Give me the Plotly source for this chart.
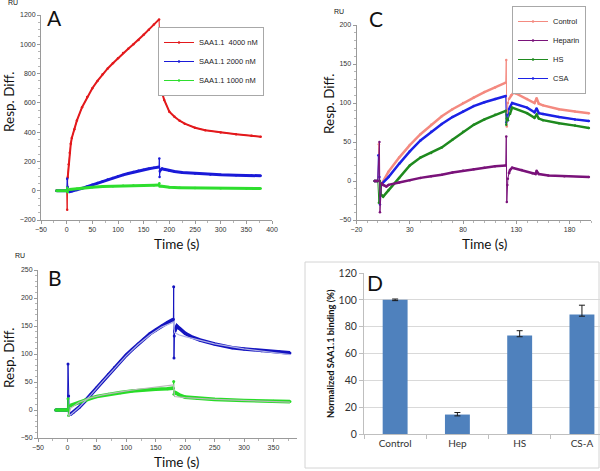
import plotly.graph_objects as go

W, H = 600, 471

# ---------------- Panel A / B data (SAA1.1 sensorgrams) ----------------
t_4000 = [-20, 0, 1, 2, 4, 6, 8, 10, 15, 20, 30, 40, 50, 60, 70, 80, 90, 100, 110, 120, 130, 140, 150,
          160, 170, 180, 181, 182, 185, 190, 200, 210, 220, 230, 250, 270, 300, 330, 360, 378]
y_4000 = [0, 0, -130, 90, 180, 260, 320, 360, 420, 480, 570, 640, 700, 750, 795, 835, 870, 905, 940, 970,
          1000, 1030, 1065, 1100, 1135, 1170, 1030, 740, 680, 620, 540, 505, 478, 458, 430, 413, 398, 385, 375, 368]

t_2000 = [-20, 0, 1, 2, 3, 5, 10, 20, 30, 40, 50, 60, 70, 80, 90, 100, 110, 120, 130, 140, 150, 160, 170,
          180, 180.5, 181, 181.5, 182, 186, 190, 200, 210, 225, 250, 280, 300, 330, 360, 378]
y_2000 = [0, 0, 82, 25, -5, -8, -4, 5, 16, 28, 40, 52, 64, 76, 87, 98, 108, 118, 127, 136, 143, 150, 156,
          162, 220, 93, 132, 140, 150, 146, 137, 131, 125, 118, 111, 109, 106, 104, 102]

t_1000 = [-20, 0, 1, 2, 5, 10, 20, 30, 40, 50, 70, 90, 110, 130, 150, 170, 180, 180.5, 181, 182, 185,
          190, 200, 220, 250, 300, 350, 378]
y_1000 = [0, 0, 20, -10, 8, 10, 14, 18, 21, 24, 28, 31, 34, 36, 37, 38, 39, 51, 28, 32, 30,
          27, 23, 21, 19, 17, 15.5, 15]

# fitted curves shown in panel B
t_fit_2000 = [2, 5, 20, 40, 60, 80, 100, 120, 140, 160, 180, 182, 190, 200, 225, 250, 300, 350, 378]
y_fit_2000 = [-8, -9, 5, 27, 51, 75, 97, 117, 134, 148, 157, 138, 134, 131, 124, 118, 109, 102, 99]
t_fit_1000 = [2, 5, 20, 40, 60, 80, 100, 120, 140, 160, 180, 182, 190, 200, 250, 300, 350, 378]
y_fit_1000 = [-12, 3, 14, 22, 27, 31, 34, 37, 40, 42, 45, 24, 23, 22, 19, 17, 15, 14]

# ---------------- Panel C data (competition) ----------------
t_ctrl = [-3, 0, 1, 2, 3.5, 10, 20, 30, 40, 50, 60, 70, 80, 90, 100, 110, 120, 120.5, 121, 122, 123,
          125, 127, 130, 140, 147, 149, 151, 155, 170, 185, 198]
y_ctrl = [0, 0, 47, -20, -4, 12, 30, 46, 60, 72, 83, 92, 100, 107, 114, 120, 126, 155, 70, 100, 105,
          110, 113, 112, 105, 100, 106, 99, 97, 92, 89, 87]

t_hep = [-3, 0, 1.5, 2, 3.5, 5, 8, 10, 20, 30, 40, 50, 60, 70, 80, 90, 100, 110, 120, 120.5, 121, 121.5,
         122, 123, 124, 126, 135, 145, 148, 149, 151, 160, 175, 198]
y_hep = [0, 0, 50, -40, -3, -5, -7, -5, -2, 1, 4, 6, 8, 11, 13, 15, 17, 19, 20, 57, -27, -5,
         3, 10, 14, 17, 14, 10, 9, 13, 9, 7, 6, 5]

t_hs = [-3, 0, 1, 2, 3.5, 5, 10, 20, 30, 40, 50, 60, 70, 80, 90, 100, 110, 120, 120.5, 121, 122, 124,
        126, 140, 147, 149, 151, 155, 170, 185, 198]
y_hs = [0, 0, -28, 0, -18, -20, -12, 4, 20, 30, 36, 43, 53, 63, 72, 79, 85, 90, 72, 80, 78, 86,
        94, 87, 81, 85, 80, 78, 74, 71, 68]

t_csa = [-3, 0, 0.5, 1.5, 2, 3.5, 10, 20, 30, 40, 50, 60, 70, 80, 90, 100, 110, 120, 120.5, 121, 122,
         123, 124, 126, 140, 147, 149, 151, 155, 170, 185, 198]
y_csa = [0, 0, 33, 5, -30, -4, 5, 22, 38, 52, 63, 73, 82, 89, 96, 101, 105, 109, 75, 85, 78,
         92, 95, 100, 94, 88, 93, 87, 86, 82, 79, 77]

# ---------------- Panel D data ----------------
d_categories = ["Control", "Hep", "HS", "CS-A"]
d_values = [100, 14.5, 73.5, 89]
d_err_plus = [0.6, 1.5, 3.5, 7.0]
d_err_minus = [0.6, 1.0, 1.0, 1.2]

# ---------------- helpers ----------------
def px(x):
    return x / W

def py(y):
    return 1 - y / H

def thick_part(t, y, windows):
    return [None if any(a < ti < b for a, b in windows) else yi for ti, yi in zip(t, y)]

fig = go.Figure()

def add_series(t, y, color, name, xa, ya, windows, width, legend=None, rank=None, msize=3):
    fig.add_trace(go.Scatter(x=t, y=thick_part(t, y, windows), mode="lines", xaxis=xa, yaxis=ya,
                             line=dict(color=color, width=width), showlegend=False,
                             hoverinfo="skip", connectgaps=False))
    fig.add_trace(go.Scatter(x=t, y=y, mode="lines+markers", xaxis=xa, yaxis=ya, name=name,
                             line=dict(color=color, width=1), marker=dict(color=color, size=msize),
                             showlegend=legend is not None, legend=legend or "legend",
                             legendrank=rank or 1000))

RED, BLUE, GREEN = "#e3191c", "#1a1ad8", "#2ede2e"
win_ab = [(0, 5), (180, 182)]

# Panel A
add_series(t_4000, y_4000, RED, "SAA1.1  4000 nM", "x", "y", [(0, 2), (180, 182)], 2, "legend", 1, 2.5)
add_series(t_2000, y_2000, BLUE, "SAA1.1 2000 nM", "x", "y", win_ab, 3, "legend", 2, 2.5)
add_series(t_1000, y_1000, GREEN, "SAA1.1 1000 nM", "x", "y", [(0, 5), (180, 182)], 3, "legend", 3, 2.5)

# Panel B
BLUE_B, GREEN_B = "#1414c0", "#28dc28"
add_series(t_2000, y_2000, BLUE_B, "2000", "x2", "y2", win_ab, 3.6, None, None, 3)
add_series(t_1000, y_1000, GREEN_B, "1000", "x2", "y2", [(0, 5), (180, 182)], 3.6, None, None, 3)
fig.add_trace(go.Scatter(x=t_fit_2000, y=y_fit_2000, mode="lines", xaxis="x2", yaxis="y2",
                         line=dict(color="#aeb0e6", width=1.2), showlegend=False))
fig.add_trace(go.Scatter(x=t_fit_1000, y=y_fit_1000, mode="lines", xaxis="x2", yaxis="y2",
                         line=dict(color="#b8b8b8", width=1.2), showlegend=False))

# Panel C
win_c = [(0, 3.5), (120, 123)]
add_series(t_ctrl, y_ctrl, "#f48a80", "Control", "x3", "y3", win_c, 2.5, "legend2", 1, 2.5)
add_series(t_csa, y_csa, "#1c22e6", "CSA", "x3", "y3", win_c, 2.5, "legend2", 4, 2.5)
add_series(t_hs, y_hs, "#1f8a1f", "HS", "x3", "y3", win_c, 2.5, "legend2", 3, 2.5)
add_series(t_hep, y_hep, "#7a137a", "Heparin", "x3", "y3", win_c, 2.5, "legend2", 2, 2.5)

# Panel D
fig.add_trace(go.Bar(x=d_categories, y=d_values, xaxis="x4", yaxis="y4", width=0.4,
                     marker=dict(color="#4f81bd", line=dict(width=0)),
                     error_y=dict(type="data", symmetric=False, array=d_err_plus,
                                  arrayminus=d_err_minus, color="#1a1a1a", thickness=1, width=3),
                     showlegend=False))

# ---------------- axes ----------------
tickfont = dict(family="Liberation Sans, Arial, sans-serif", size=7, color="#333333")

def lin_axis(rng, dtick, tick0, minor_dtick, domain, anchor):
    return dict(range=rng, dtick=dtick, tick0=tick0, domain=domain, anchor=anchor, automargin=False,
                showline=True, linecolor="#9a9a9a", linewidth=1, ticks="outside", ticklen=3,
                tickcolor="#9a9a9a", tickfont=tickfont, showgrid=False, zeroline=False,
                minor=dict(ticks="outside", ticklen=2, tickcolor="#b5b5b5", dtick=minor_dtick))

fig.update_layout(
    template="none",
    xaxis=lin_axis([-50, 400], 50, 0, 25, [px(41), px(272)], "y"),
    yaxis=lin_axis([-200, 1200], 200, 0, 50, [py(220), py(15)], "x"),
    xaxis2=lin_axis([-50, 390], 50, 0, 25, [px(38), px(297)], "y2"),
    yaxis2=lin_axis([-50, 250], 50, 0, 10, [py(438), py(270)], "x2"),
    xaxis3=lin_axis([-20, 200], 50, -20, 10, [px(356.5), px(591)], "y3"),
    yaxis3=lin_axis([-50, 200], 50, 0, 10, [py(220), py(25)], "x3"),
    xaxis4=dict(type="category", range=[-0.5, 3.29], domain=[px(364), 1.0], anchor="y4", automargin=False,
                showline=True, linecolor="#bfbfbf", ticks="outside", tickson="boundaries",
                ticklen=4, tickcolor="#bfbfbf", showgrid=False,
                tickfont=dict(family="Lato", size=10, color="#333333")),
    yaxis4=dict(range=[0, 120], dtick=20, domain=[py(434), py(273)], anchor="x4", automargin=False,
                showline=True, linecolor="#bfbfbf", ticks="outside", ticklen=4, tickcolor="#bfbfbf",
                showgrid=True, gridcolor="#d9d9d9", zeroline=False,
                tickfont=dict(family="Lato", size=10.5, color="#333333")),
)

# ---------------- legends ----------------
fig.update_layout(
    legend=dict(x=px(158), y=py(27), xanchor="left", yanchor="top", bgcolor="white",
                bordercolor="#a8a8a8", borderwidth=1,
                font=dict(family="Liberation Sans, Arial, sans-serif", size=7.5, color="#222222")),
    legend2=dict(x=px(512), y=py(6), xanchor="left", yanchor="top", bgcolor="white",
                 bordercolor="#a8a8a8", borderwidth=1,
                 font=dict(family="Liberation Sans, Arial, sans-serif", size=7.5, color="#222222")),
)

# ---------------- text annotations ----------------
ann = []

def add_text(x, y, text, size, family="Lato", angle=0, bold=False, color="#111111"):
    ann.append(dict(x=px(x), y=py(y), xref="paper", yref="paper", text=f"<b>{text}</b>" if bold else text,
                    showarrow=False, textangle=angle, xanchor="center", yanchor="middle",
                    font=dict(family=family, size=size, color=color)))

# panel letters
add_text(55, 18, "A", 21)
add_text(55, 277, "B", 21)
add_text(376, 19, "C", 21)
add_text(375, 282, "D", 21)
# RU labels
add_text(13, 3, "RU", 7, "Liberation Sans")
add_text(20, 255, "RU", 7, "Liberation Sans")
add_text(339, 12, "RU", 7, "Liberation Sans")
# axis titles
add_text(176, 244, "Time (s)", 13.5)
add_text(176, 462, "Time (s)", 13.5)
add_text(484, 244, "Time (s)", 13.5)
add_text(9, 102, "Resp. Diff.", 13.5, angle=-90)
add_text(9, 358, "Resp. Diff.", 13.5, angle=-90)
add_text(329, 104, "Resp. Diff.", 13.5, angle=-90)
add_text(330, 354, "Normalized SAA1.1 binding (%)", 9.3, angle=-90, bold=True)

fig.update_layout(
    annotations=ann,
    shapes=[dict(type="rect", xref="paper", yref="paper", x0=px(305), x1=px(599), y0=py(468), y1=py(262),
                 line=dict(color="#d4d4d4", width=1), layer="below")],
    width=W, height=H, margin=dict(l=0, r=0, t=0, b=0, pad=0, autoexpand=False),
    paper_bgcolor="white", plot_bgcolor="white", bargap=0.6,
)

fig.write_html("out.html", config={"displayModeBar": False},
               post_script="document.body.style.margin='0';document.body.style.overflow='hidden';")
